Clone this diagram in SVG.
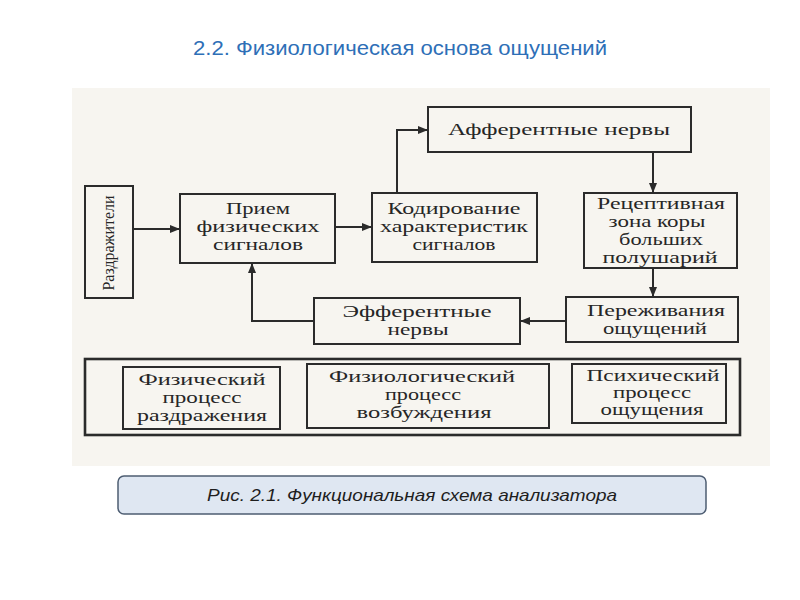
<svg xmlns="http://www.w3.org/2000/svg" width="800" height="600" viewBox="0 0 800 600">
<style>
.box{fill:none;stroke:#2b2b2b;stroke-width:2}
.t{font-family:"Liberation Serif","Times New Roman",serif;font-size:16px;fill:#262626;text-anchor:middle}
.conn{fill:none;stroke:#2b2b2b;stroke-width:2}
</style>
<defs>
<marker id="ah" viewBox="0 0 10 8" refX="10" refY="4" markerWidth="10" markerHeight="8" markerUnits="userSpaceOnUse" orient="auto">
<path d="M0,0 L10,4 L0,8 Z" fill="#2b2b2b"/>
</marker>
</defs>
<rect width="800" height="600" fill="#ffffff"/>
<text x="400" y="55" font-family="Liberation Sans, Arial, sans-serif" font-size="20" fill="#2e6fb7" text-anchor="middle" textLength="414" lengthAdjust="spacingAndGlyphs">2.2. Физиологическая основа ощущений</text>
<rect x="72" y="88" width="698" height="378" fill="#f7f5f0"/>

<g id="razdrazhiteli">
<rect class="box" x="85" y="186" width="48" height="112"/>
<text class="t" transform="translate(114,243) rotate(-90)" textLength="95" lengthAdjust="spacingAndGlyphs">Раздражители</text>
</g>
<g id="priem">
<rect class="box" x="180" y="194" width="155" height="69"/>
<text class="t" x="258" y="214" textLength="64" lengthAdjust="spacingAndGlyphs">Прием</text>
<text class="t" x="258" y="232" textLength="123" lengthAdjust="spacingAndGlyphs">физических</text>
<text class="t" x="258" y="250" textLength="90" lengthAdjust="spacingAndGlyphs">сигналов</text>
</g>
<g id="kodirovanie">
<rect class="box" x="372" y="193" width="165" height="69"/>
<text class="t" x="454" y="214" textLength="133" lengthAdjust="spacingAndGlyphs">Кодирование</text>
<text class="t" x="454" y="232" textLength="148" lengthAdjust="spacingAndGlyphs">характеристик</text>
<text class="t" x="454" y="250" textLength="83" lengthAdjust="spacingAndGlyphs">сигналов</text>
</g>
<g id="afferentnye">
<rect class="box" x="428" y="107" width="263" height="45"/>
<text class="t" x="559" y="135" textLength="222" lengthAdjust="spacingAndGlyphs">Афферентные нервы</text>
</g>
<g id="receptivnaya">
<rect class="box" x="584" y="193" width="153" height="75"/>
<text class="t" x="661" y="209" textLength="128" lengthAdjust="spacingAndGlyphs">Рецептивная</text>
<text class="t" x="657" y="227" textLength="97" lengthAdjust="spacingAndGlyphs">зона коры</text>
<text class="t" x="661" y="245" textLength="84" lengthAdjust="spacingAndGlyphs">больших</text>
<text class="t" x="660" y="263" textLength="115" lengthAdjust="spacingAndGlyphs">полушарий</text>
</g>
<g id="perezhivaniya">
<rect class="box" x="566" y="297" width="172" height="45"/>
<text class="t" x="656" y="316" textLength="138" lengthAdjust="spacingAndGlyphs">Переживания</text>
<text class="t" x="655" y="334" textLength="104" lengthAdjust="spacingAndGlyphs">ощущений</text>
</g>
<g id="efferentnye">
<rect class="box" x="314" y="298" width="206" height="46"/>
<text class="t" x="417" y="317" textLength="149" lengthAdjust="spacingAndGlyphs">Эфферентные</text>
<text class="t" x="418" y="335" textLength="61" lengthAdjust="spacingAndGlyphs">нервы</text>
</g>
<g id="processes">
<rect x="85" y="359" width="655" height="76" fill="none" stroke="#2b2b2b" stroke-width="2.6"/>
<g id="fizicheskiy">
<rect class="box" x="123" y="367" width="157" height="62"/>
<text class="t" x="202" y="385" textLength="127" lengthAdjust="spacingAndGlyphs">Физический</text>
<text class="t" x="202" y="403" textLength="79" lengthAdjust="spacingAndGlyphs">процесс</text>
<text class="t" x="202" y="421" textLength="130" lengthAdjust="spacingAndGlyphs">раздражения</text>
</g>
<g id="fiziologicheskiy">
<rect class="box" x="307" y="364" width="242" height="64"/>
<text class="t" x="422" y="382" textLength="186" lengthAdjust="spacingAndGlyphs">Физиологический</text>
<text class="t" x="423" y="400" textLength="76" lengthAdjust="spacingAndGlyphs">процесс</text>
<text class="t" x="424" y="418" textLength="135" lengthAdjust="spacingAndGlyphs">возбуждения</text>
</g>
<g id="psihicheskiy">
<rect class="box" x="572" y="364" width="154" height="59"/>
<text class="t" x="653" y="381" textLength="133" lengthAdjust="spacingAndGlyphs">Психический</text>
<text class="t" x="652" y="398" textLength="78" lengthAdjust="spacingAndGlyphs">процесс</text>
<text class="t" x="652" y="415" textLength="103" lengthAdjust="spacingAndGlyphs">ощущения</text>
</g>
</g>

<g id="connectors">
<path class="conn" d="M133,229 H180" marker-end="url(#ah)"/>
<path class="conn" d="M335,227 H372" marker-end="url(#ah)"/>
<path class="conn" d="M397,193 V130 H428" marker-end="url(#ah)"/>
<path class="conn" d="M653,152 V193" marker-end="url(#ah)"/>
<path class="conn" d="M653,268 V297" marker-end="url(#ah)"/>
<path class="conn" d="M566,321 H520" marker-end="url(#ah)"/>
<path class="conn" d="M314,321 H252 V263" marker-end="url(#ah)"/>
</g>

<g id="caption">
<rect x="118" y="476" width="588" height="38" rx="6" ry="6" fill="#dfe7f2" stroke="#4d5d72" stroke-width="1.5"/>
<text x="412" y="501" font-family="Liberation Sans, Arial, sans-serif" font-size="17" font-style="italic" fill="#1e1e1e" text-anchor="middle" textLength="410" lengthAdjust="spacingAndGlyphs">Рис. 2.1. Функциональная схема анализатора</text>
</g>
</svg>
